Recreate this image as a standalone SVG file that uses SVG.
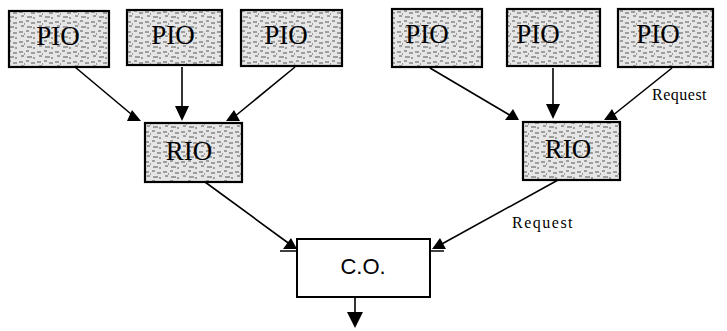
<svg xmlns="http://www.w3.org/2000/svg" width="727" height="331" viewBox="0 0 727 331">
<style>
.box{stroke:#000;stroke-width:2.2;fill:url(#speck)}
.plain{stroke:#000;stroke-width:2;fill:#fff}
.lbl{font-family:"Liberation Serif",serif;font-size:27px;fill:#000;text-anchor:middle}
.co{font-family:"Liberation Sans",sans-serif;font-size:22px;fill:#000;text-anchor:middle}
.req{font-family:"Liberation Serif",serif;font-size:16px;fill:#000}
.conn{stroke:#000;stroke-width:1.6;fill:none}
.head{fill:#000}
</style>
<defs>
<pattern id="speck" width="18" height="10" patternUnits="userSpaceOnUse">
<rect width="18" height="10" fill="#e6e6e6"/>
<path d="M1 2h4M8 1h3M13 3h4M3 6h3M9 7h5M15 8h2M6 4h1" stroke="#555" stroke-width="1"/>
</pattern>
</defs>
<g id="connectors">
<path class="conn" d="M75 67L137 119"/>
<path class="head" d="M127 121L141 121L132 110z"/>
<path class="conn" d="M182 67V108"/>
<path class="head" d="M175 106L189 106L182 121z"/>
<path class="conn" d="M295 67L234 117"/>
<path class="head" d="M226 121L240 121L234 110z"/>
<path class="conn" d="M430 68L513 117"/>
<path class="head" d="M505 120L519 120L513 109z"/>
<path class="conn" d="M553 68V106"/>
<path class="head" d="M546 104L560 104L553 119z"/>
<path class="conn" d="M672 68L612 116"/>
<path class="head" d="M604 120L618 120L612 109z"/>
<path class="conn" d="M205 182L291 245"/>
<path class="head" d="M283 249L297 249L291 238z"/>
<path d="M280 251h16" stroke="#000" stroke-width="1.5"/>
<path class="conn" d="M558 180L440 245"/>
<path class="head" d="M432 249L446 249L440 238z"/>
<path d="M430 251h14" stroke="#000" stroke-width="1.5"/>
<path d="M355 297V314" stroke="#000" stroke-width="1.6"/>
<path class="head" d="M347 312L363 312L355 328z"/>
</g>
<g id="pio1"><rect class="box" x="9" y="11" width="100" height="56"/><text class="lbl" x="58" y="45">PIO</text></g>
<g id="pio2"><rect class="box" x="127" y="10" width="95" height="55"/><text class="lbl" x="173" y="44">PIO</text></g>
<g id="pio3"><rect class="box" x="241" y="10" width="101" height="56"/><text class="lbl" x="286" y="44">PIO</text></g>
<g id="pio4"><rect class="box" x="392" y="9" width="90" height="58"/><text class="lbl" x="427" y="43">PIO</text></g>
<g id="pio5"><rect class="box" x="507" y="9" width="93" height="57"/><text class="lbl" x="538" y="43">PIO</text></g>
<g id="pio6"><rect class="box" x="618" y="9" width="95" height="58"/><text class="lbl" x="658" y="43">PIO</text></g>
<g id="rio1"><rect class="box" x="145" y="123" width="97" height="59"/><text class="lbl" x="189" y="160">RIO</text></g>
<g id="rio2"><rect class="box" x="523" y="122" width="97" height="58"/><text class="lbl" x="568" y="158">RIO</text></g>
<g id="co"><rect class="plain" x="297" y="239" width="133" height="58"/><text class="co" x="363" y="274">C.O.</text></g>
<text class="req" x="652" y="100" letter-spacing="0.5">Request</text>
<text class="req" x="512" y="228" font-size="17" letter-spacing="1.5">Request</text>
</svg>
